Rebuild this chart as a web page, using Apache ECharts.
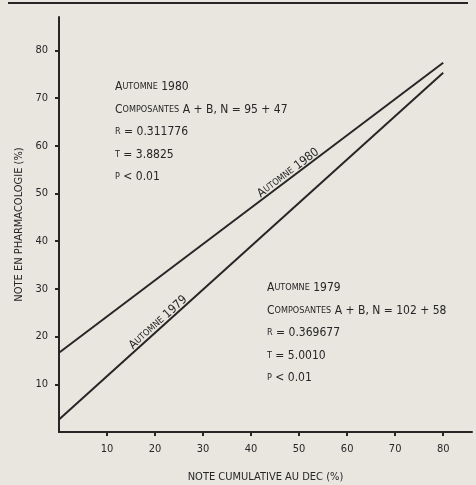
<!DOCTYPE html>
<html>
<head>
<meta charset="utf-8">
<script src="https://cdn.jsdelivr.net/npm/echarts@6/dist/echarts.min.js"></script>
<style>
html,body{margin:0;padding:0;background:#e8e6df;}
#c{width:476px;height:485px;}
</style>
</head>
<body>
<div id="c"></div>
<script>
// Data
var xTicks = [10, 20, 30, 40, 50, 60, 70, 80];
var yTicks = [10, 20, 30, 40, 50, 60, 70, 80];
var line1980 = [[0, 16.6], [80, 77.4]];
var line1979 = [[0, 2.6], [80, 75.3]];
var label1980Anchor = [48.5, 53.3];
var label1979Anchor = [21.5, 22.0];
var stats1980 = ['Automne 1980', 'Composantes A + B, N = 95 + 47', 'r = 0.311776', 't = 3.8825', 'p < 0.01'];
var stats1979 = ['Automne 1979', 'Composantes A + B, N = 102 + 58', 'r = 0.369677', 't = 5.0010', 'p < 0.01'];

var FONT = '"DejaVu Sans Condensed", "Liberation Sans Narrow", "DejaVu Sans", sans-serif';
var INK = '#262626';
var BIG = 12, SMALL = 9;

// build small-caps rich string: uppercase letters big, lowercase letters as small caps
function smallCaps(s) {
  var out = '', cur = null, buf = '';
  function flush() { if (buf) { out += '{' + cur + '|' + buf.replace(/[{}|]/g, '') + '}'; buf = ''; } }
  for (var i = 0; i < s.length; i++) {
    var ch = s[i];
    var t = (ch >= 'a' && ch <= 'z') ? 's' : 'b';
    if (t !== cur) { flush(); cur = t; }
    buf += (t === 's') ? ch.toUpperCase() : ch;
  }
  flush();
  return out;
}
var rich = {
  b: { fontSize: BIG, fontFamily: FONT, fill: INK, color: INK },
  s: { fontSize: SMALL, fontFamily: FONT, fill: INK, color: INK }
};

var chart = echarts.init(document.getElementById('c'), null, { renderer: 'canvas' });
var option = {
  backgroundColor: '#e8e6df',
  animation: false,
  grid: { left: 59, right: 4, top: 17, bottom: 53, containLabel: false, outerBoundsMode: 'none' },
  xAxis: {
    type: 'value', min: 0, max: 86, interval: 10,
    name: 'NOTE CUMULATIVE AU DEC (%)', nameLocation: 'middle', nameGap: 40,
    nameTextStyle: { fontFamily: FONT, fontSize: 11, color: INK },
    axisLine: { show: true, lineStyle: { color: INK, width: 2 } },
    axisTick: { show: true, customValues: xTicks, length: 4, lineStyle: { color: INK, width: 2 } },
    axisLabel: { customValues: xTicks, margin: 12, fontFamily: FONT, fontSize: 11, color: INK },
    splitLine: { show: false }
  },
  yAxis: {
    type: 'value', min: 0, max: 87, interval: 10,
    name: 'NOTE EN PHARMACOLOGIE (%)', nameLocation: 'middle', nameGap: 34,
    nameTextStyle: { fontFamily: FONT, fontSize: 11, color: INK },
    axisLine: { show: true, lineStyle: { color: INK, width: 2 } },
    axisTick: { show: true, customValues: yTicks, length: 4, lineStyle: { color: INK, width: 2 } },
    axisLabel: { customValues: yTicks, margin: 11, fontFamily: FONT, fontSize: 11, color: INK },
    splitLine: { show: false }
  },
  series: [
    { type: 'line', data: line1980, symbol: 'none', lineStyle: { color: INK, width: 2 } },
    { type: 'line', data: line1979, symbol: 'none', lineStyle: { color: INK, width: 2 } }
  ]
};
chart.setOption(option);

function statBlock(lines, x, y0) {
  var els = [];
  for (var i = 0; i < lines.length; i++) {
    els.push({
      type: 'text', x: x, y: y0 + i * 22.5,
      style: { text: smallCaps(lines[i]), rich: rich, verticalAlign: 'middle', align: 'left' },
      silent: true
    });
  }
  return els;
}

var p80 = chart.convertToPixel('grid', label1980Anchor);
var p79 = chart.convertToPixel('grid', label1979Anchor);
var a80 = chart.convertToPixel('grid', line1980[0]), b80 = chart.convertToPixel('grid', line1980[1]);
var a79 = chart.convertToPixel('grid', line1979[0]), b79 = chart.convertToPixel('grid', line1979[1]);
var r80 = Math.atan2(a80[1] - b80[1], b80[0] - a80[0]);
var r79 = Math.atan2(a79[1] - b79[1], b79[0] - a79[0]);

var graphics = [
  { type: 'line', shape: { x1: 8, y1: 3, x2: 468, y2: 3 }, style: { stroke: INK, lineWidth: 2 }, silent: true },
  { type: 'text', x: p80[0], y: p80[1], rotation: r80,
    style: { text: smallCaps('Automne 1980'), rich: rich, align: 'center', verticalAlign: 'bottom' }, silent: true },
  { type: 'text', x: p79[0], y: p79[1], rotation: r79,
    style: { text: smallCaps('Automne 1979'), rich: rich, align: 'center', verticalAlign: 'bottom' }, silent: true }
].concat(statBlock(stats1980, 115, 87)).concat(statBlock(stats1979, 267, 288));

chart.setOption({ graphic: graphics });
</script>
</body>
</html>
